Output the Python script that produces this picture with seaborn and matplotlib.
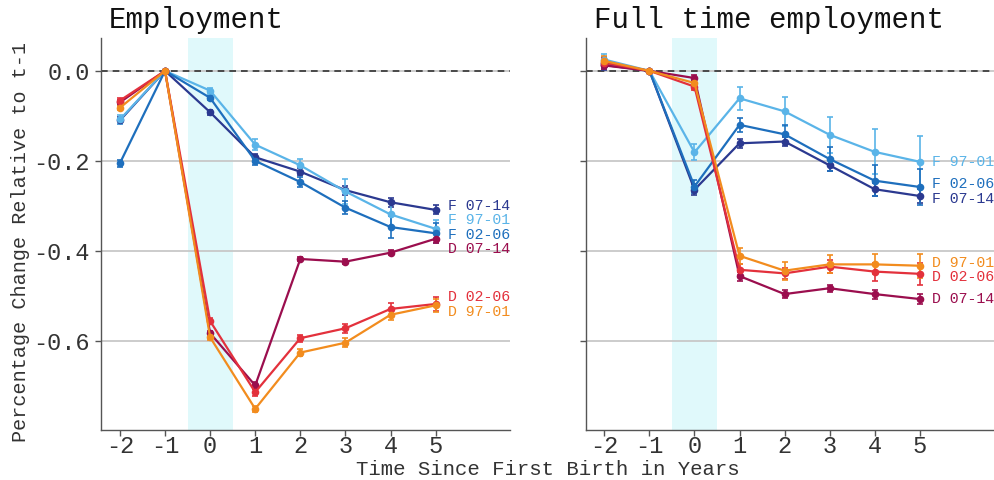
import numpy as np
import pandas as pd
import matplotlib
matplotlib.use("Agg")
import matplotlib.pyplot as plt
import seaborn as sns

years = [-2, -1, 0, 1, 2, 3, 4, 5]
groups = ["F 07-14", "F 97-01", "F 02-06", "D 07-14", "D 02-06", "D 97-01"]
colors = ["#2b3990", "#5ab4e8", "#1e6fbd", "#9b0e4e", "#e3313c", "#f28c1e"]

emp_f0714 = [-0.110, 0, -0.092, -0.192, -0.224, -0.265, -0.292, -0.309]
emp_f9701 = [-0.108, 0, -0.044, -0.164, -0.210, -0.268, -0.319, -0.351]
emp_f0206 = [-0.205, 0, -0.060, -0.200, -0.247, -0.304, -0.347, -0.361]
emp_d0714 = [-0.070, 0, -0.583, -0.699, -0.418, -0.424, -0.404, -0.373]
emp_d0206 = [-0.066, 0, -0.556, -0.714, -0.594, -0.572, -0.529, -0.518]
emp_d9701 = [-0.082, 0, -0.592, -0.751, -0.626, -0.604, -0.542, -0.521]

emp_err_f0714 = [0.008, 0, 0.005, 0.008, 0.008, 0.010, 0.010, 0.010]
emp_err_f9701 = [0.010, 0, 0.007, 0.012, 0.015, 0.028, 0.025, 0.020]
emp_err_f0206 = [0.008, 0, 0.005, 0.010, 0.012, 0.015, 0.025, 0.022]
emp_err_d0714 = [0.005, 0, 0.006, 0.008, 0.005, 0.006, 0.006, 0.010]
emp_err_d0206 = [0.005, 0, 0.006, 0.008, 0.008, 0.010, 0.014, 0.015]
emp_err_d9701 = [0.005, 0, 0.006, 0.006, 0.007, 0.010, 0.012, 0.015]

ft_f0714 = [0.013, 0, -0.264, -0.161, -0.157, -0.210, -0.263, -0.278]
ft_f9701 = [0.025, 0, -0.181, -0.061, -0.090, -0.142, -0.180, -0.202]
ft_f0206 = [0.018, 0, -0.257, -0.120, -0.141, -0.196, -0.244, -0.258]
ft_d0714 = [0.012, 0, -0.016, -0.456, -0.496, -0.483, -0.496, -0.507]
ft_d0206 = [0.018, 0, -0.035, -0.442, -0.450, -0.435, -0.446, -0.451]
ft_d9701 = [0.022, 0, -0.027, -0.411, -0.444, -0.430, -0.430, -0.433]

ft_err_f0714 = [0.010, 0, 0.012, 0.010, 0.010, 0.012, 0.014, 0.016]
ft_err_f9701 = [0.013, 0, 0.018, 0.025, 0.033, 0.040, 0.050, 0.057]
ft_err_f0206 = [0.012, 0, 0.015, 0.016, 0.020, 0.026, 0.035, 0.040]
ft_err_d0714 = [0.008, 0, 0.006, 0.010, 0.008, 0.008, 0.010, 0.012]
ft_err_d0206 = [0.010, 0, 0.008, 0.012, 0.012, 0.015, 0.020, 0.025]
ft_err_d9701 = [0.010, 0, 0.008, 0.018, 0.020, 0.020, 0.022, 0.027]

titles = ["Employment", "Full time employment"]
ytick_vals = [0.0, -0.2, -0.4, -0.6]
ytick_labels = ["0.0", "-0.2", "-0.4", "-0.6"]
xlabel = "Time Since First Birth in Years"
ylabel = "Percentage Change Relative to t-1"

def build(vals, errs):
    rows = []
    for g, v, e in zip(groups, vals, errs):
        for x, yv, ev in zip(years, v, e):
            rows.append({"year": x, "value": yv, "err": ev, "group": g})
    return pd.DataFrame(rows)

df_emp = build([emp_f0714, emp_f9701, emp_f0206, emp_d0714, emp_d0206, emp_d9701],
               [emp_err_f0714, emp_err_f9701, emp_err_f0206, emp_err_d0714, emp_err_d0206, emp_err_d9701])
df_ft = build([ft_f0714, ft_f9701, ft_f0206, ft_d0714, ft_d0206, ft_d9701],
              [ft_err_f0714, ft_err_f9701, ft_err_f0206, ft_err_d0714, ft_err_d0206, ft_err_d9701])

sns.set_theme(style="white")
plt.rcParams["font.family"] = ["Liberation Mono", "DejaVu Sans Mono", "DejaVu Sans"]

fig = plt.figure(figsize=(9.94, 4.8), dpi=100)
ax1 = fig.add_axes([101 / 994, 1 - 430 / 480, 409 / 994, 392 / 480])
ax2 = fig.add_axes([585.5 / 994, 1 - 430 / 480, 408.5 / 994, 392 / 480], sharey=ax1)

palette = dict(zip(groups, colors))


def repel(vals, gap):
    order = list(np.argsort(-np.array(vals)))
    clusters = [[i] for i in order]
    changed = True
    new = []
    while changed:
        changed = False
        placed = []
        for c in clusters:
            m = np.mean([vals[i] for i in c])
            placed.append((c, m + gap * (len(c) - 1) / 2))
        new = [placed[0]]
        for c, top in placed[1:]:
            pc, ptop = new[-1]
            pbottom = ptop - gap * (len(pc) - 1)
            if pbottom - top < gap - 1e-9:
                merged = pc + c
                m = np.mean([vals[i] for i in merged])
                new[-1] = (merged, m + gap * (len(merged) - 1) / 2)
                changed = True
            else:
                new.append((c, top))
        clusters = [c for c, _ in new]
    pos = {}
    for c, top in new:
        for k, i in enumerate(c):
            pos[i] = top - gap * k
    return pos


for ax, df, title in zip([ax1, ax2], [df_emp, df_ft], titles):
    ax.axvspan(-0.5, 0.5, color="#e0f9fb", zorder=0, lw=0)
    for yv in ytick_vals:
        ax.axhline(yv, color="#c8c8c8", lw=1.3, zorder=0.5)
    ax.axhline(0, color="#333333", lw=1.2, ls=(0, (4, 3)), zorder=1)
    sns.lineplot(data=df, x="year", y="value", hue="group", hue_order=groups,
                 palette=palette, marker="o", markersize=5.5, markeredgewidth=0,
                 lw=1.6, legend=False, ax=ax, zorder=3)
    for g in groups:
        sub = df[df["group"] == g]
        ax.errorbar(sub["year"], sub["value"], yerr=sub["err"], fmt="none",
                    ecolor=palette[g], elinewidth=1.2, capsize=2.5, capthick=1.2, zorder=2)
    ends = [df[(df["group"] == g) & (df["year"] == years[-1])]["value"].iloc[0] for g in groups]
    lab_pos = repel(ends, 0.032)
    for i, g in enumerate(groups):
        ax.text(years[-1] + 0.28, lab_pos[i], g, color=palette[g], fontsize=10.7,
                va="center", ha="left", clip_on=False)
    ax.set_xlim(-2.42, 6.65)
    ax.set_ylim(-0.798, 0.073)
    ax.set_xticks(years)
    ax.set_xticklabels([str(x) for x in years])
    ax.set_yticks(ytick_vals)
    ax.set_xlabel("")
    ax.set_ylabel("")
    for s in ["top", "right"]:
        ax.spines[s].set_visible(False)
    for s in ["left", "bottom"]:
        ax.spines[s].set_color("#555555")
        ax.spines[s].set_linewidth(1.0)
    ax.tick_params(axis="both", which="both", direction="out", length=4.5, width=1,
                   color="#555555", labelsize=17, labelcolor="#333333", bottom=True, left=True)
    ax.tick_params(axis="x", pad=-1)
    ax.set_title(title, loc="left", fontsize=21, color="#111111", pad=7, x=0.02)

ax1.set_yticklabels(ytick_labels)
ax2.tick_params(axis="y", labelleft=False)

fig.text(0.551, 0.022, xlabel, ha="center", va="center", fontsize=14.9, color="#333333")
fig.text(0.021, 0.495, ylabel, ha="center", va="center", rotation=90, fontsize=14.5, color="#333333")

fig.savefig("out.png", dpi=100)
